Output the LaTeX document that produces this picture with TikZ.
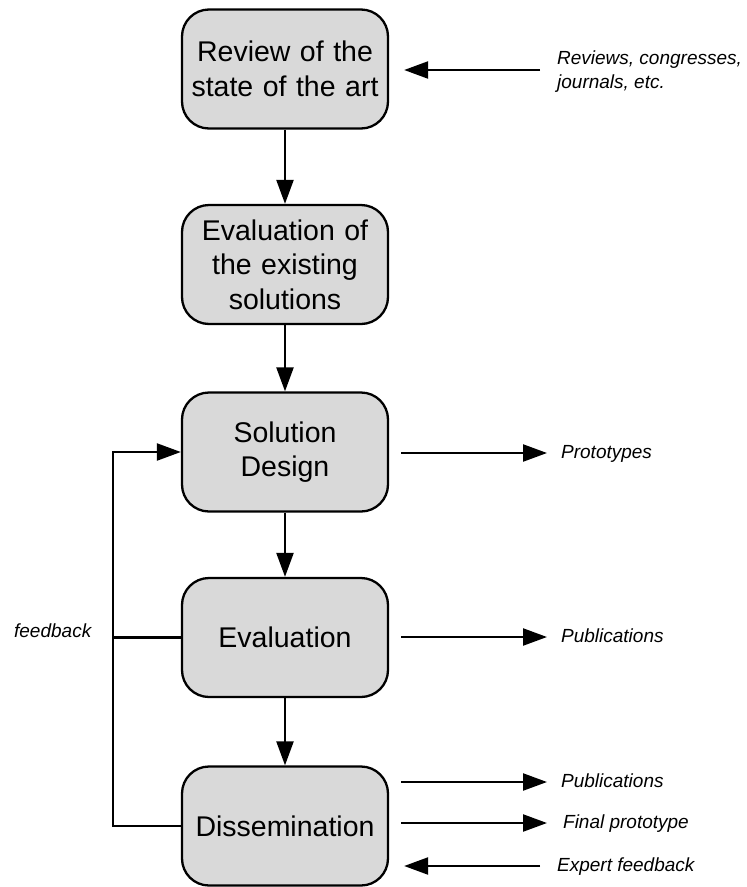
\documentclass[tikz,border=0pt]{standalone}
\usepackage{fontspec}
\setmainfont{Liberation Sans}
\usetikzlibrary{arrows.meta,calc}
\definecolor{boxfill}{HTML}{D9D9D9}
\begin{document}
\begin{tikzpicture}[x=1pt,y=-1pt,
  line width=2.3pt,
  stage/.style={draw=black, fill=boxfill, rounded corners=27pt,
    minimum width=206pt, minimum height=119pt, inner sep=0pt,
    text width=200pt, align=center,
    font=\fontsize{28.5}{34.5}\selectfont},
  notetext/.style={inner sep=0pt, anchor=west, align=left,
    font=\fontsize{19}{24}\selectfont\itshape},
  note/.style={notetext, anchor=base west},
  flow/.style={-{Triangle[length=24pt,width=17pt]}}]
\useasboundingbox (0,0) rectangle (747,887);

% process stages
\node[stage] (s1) at (285,69)    {Review of the\\state of the art};
\node[stage] (s2) at (285,264.5) {Evaluation of\\the existing\\solutions};
\node[stage] (s3) at (285,452)   {Solution\\Design};
\node[stage] (s4) at (285,637.5) {Evaluation};
\node[stage] (s5) at (285,826)   {Dissemination};

% inputs and outputs (baselines sit 5pt below the arrow lines)
\node[notetext] (lrev)  at (556,72)  {Reviews, congresses,\\journals, etc.};
\node[note] (lprot) at (560,458) {Prototypes};
\node[note] (lpub1) at (560,642) {Publications};
\node[note] (lpub2) at (560,787) {Publications};
\node[note] (lfin)  at (562,828) {Final prototype};
\node[note] (lexp)  at (556,871) {Expert feedback};
\node[note] (lfb)   at (13,637)  {feedback};

% main sequence
\draw[flow] (s1) -- (s2);
\draw[flow] (s2) -- (s3);
\draw[flow] (s3) -- (s4);
\draw[flow] (s4) -- (s5);

% arrows to and from the notes
\draw[flow] ($(lrev.west)+(-16,-2)$) -- ($(s1.east |- lrev.west)+(15,-2)$);
\draw[flow] ($(s3.east |- lprot.base west)+(12,-5)$) -- ($(lprot.base west)+(-13,-5)$);
\draw[flow] ($(s4.east |- lpub1.base west)+(12,-5)$) -- ($(lpub1.base west)+(-13,-5)$);
\draw[flow] ($(s5.east |- lpub2.base west)+(12,-5)$) -- ($(lpub2.base west)+(-13,-5)$);
\draw[flow] ($(s5.east |- lfin.base west)+(12,-5)$) -- ($(lfin.base west)+(-15,-5)$);
\draw[flow] ($(lexp.base west)+(-16,-5)$) -- ($(s5.east |- lexp.base west)+(15,-5)$);

% feedback loop
\coordinate (fbtop) at (113,452);
\draw[flow] (s5.west) -| (fbtop) -- (s3.west);
\draw (s4.west) -- (s4.west -| fbtop);
\end{tikzpicture}
\end{document}
